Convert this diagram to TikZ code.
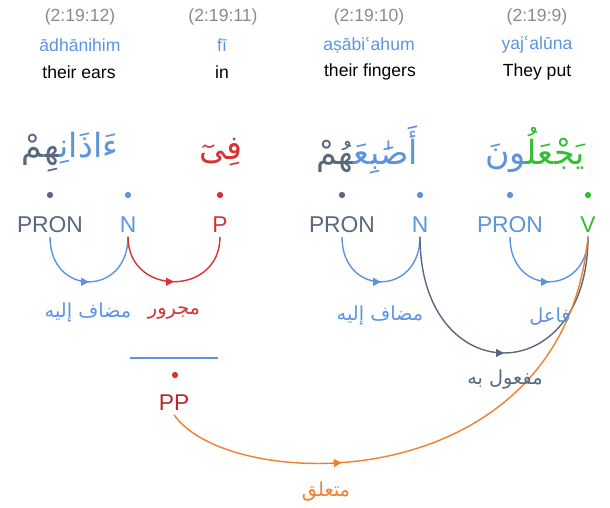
\documentclass[tikz,border=0pt]{standalone}
\usepackage{fontspec}
\setmainfont{Liberation Sans}
\newfontfamily\arabicfont[Script=Arabic]{DejaVu Sans}
\newfontfamily\markfont{DejaVu Sans}
\TeXXeTstate=1
\usetikzlibrary{positioning}
\usetikzlibrary{arrows.meta}
\usetikzlibrary{decorations.markings}

\definecolor{slate}{RGB}{88,104,126}
\definecolor{wordblue}{RGB}{92,148,224}
\definecolor{locgray}{RGB}{138,138,138}
\definecolor{posred}{RGB}{214,52,52}
\definecolor{ppred}{RGB}{186,40,44}
\definecolor{verbgreen}{RGB}{52,190,52}
\definecolor{linkorange}{RGB}{240,128,48}

% zero width joiner, keeps letters joined across a colour change
\newcommand{\joinmark}{\char"200D\relax}
\newcommand{\arword}[1]{{\arabicfont\beginR #1\endR}}
% two coloured pieces of one word, set left piece first
\newcommand{\splitword}[4]{{\arabicfont\textcolor{#3}{\joinmark #4}\textcolor{#1}{#2\joinmark}}}

\tikzset{
  loc/.style={text=locgray, font=\fontsize{10}{12}\selectfont},
  translit/.style={text=wordblue, font=\fontsize{10}{12}\selectfont},
  gloss/.style={text=black, font=\fontsize{10}{12}\selectfont},
  word/.style={font=\arabicfont\fontsize{19}{24}\selectfont},
  tagtext/.style={font=\fontsize{13}{16}\selectfont, inner sep=2pt},
  tagdot/.style={circle, inner sep=0pt, minimum size=3.6pt},
  rel/.style={font=\arabicfont\fontsize{11}{13}\selectfont},
  arcarrow/.style={postaction={decorate}, decoration={markings,
      mark=at position #1 with {\arrow{Triangle[length=4.5pt,width=4.5pt]}}}},
  arcarrow/.default=0.5,
  dep/.style={line width=0.8pt}
}

\begin{document}
\begin{tikzpicture}[x=0.02cm,y=-0.02cm]
\useasboundingbox (0,0) rectangle (610,508);

% verse locations, transliteration and gloss
\node at (80,17)[loc] (locA) {(2:19:12)};
\node at (223,17)[loc] (locB) {(2:19:11)};
\node at (369,17)[loc] (locC) {(2:19:10)};
\node at (537,17)[loc] (locD) {(2:19:9)};

\node at (80,45)[translit] (trA) {ādhānihim};
\node at (222,45)[translit] (trB) {fī};
\node at (369,45)[translit] (trC) {aṣābi{\markfont ʿ}ahum};
\node at (537,45)[translit] (trD) {yaj{\markfont ʿ}alūna};

\node at (79,72)[gloss] (glA) {their ears};
\node at (222,72)[gloss] (glB) {in};
\node at (370,72)[gloss] (glC) {their fingers};
\node at (537,72)[gloss] (glD) {They put};

% arabic words
\node at (70,152)[word] (wordA) {\splitword{wordblue}{ءَاذَانِ}{slate}{هِمْ}};
\node at (221,152)[word, text=posred] (wordB) {\arword{فِىٓ}};
\node at (367,150)[word] (wordC) {\splitword{wordblue}{أَصَٰبِعَ}{slate}{هُمْ}};
\node at (535,150)[word] (wordD) {\splitword{verbgreen}{يَجْعَلُ}{wordblue}{ونَ}};

% segment dots
\node at (50,195)[tagdot, fill=slate] (dotA1) {};
\node at (128,195)[tagdot, fill=wordblue] (dotA2) {};
\node at (220,195)[tagdot, fill=posred] (dotB1) {};
\node at (342,195)[tagdot, fill=slate] (dotC1) {};
\node at (420,195)[tagdot, fill=wordblue] (dotC2) {};
\node at (510,195)[tagdot, fill=wordblue] (dotD1) {};
\node at (588,195)[tagdot, fill=verbgreen] (dotD2) {};

% part of speech tags
\node at (50,225)[tagtext, text=slate] (pronA) {PRON};
\node at (128,225)[tagtext, text=wordblue] (nA) {N};
\node at (220,225)[tagtext, text=posred] (pB) {P};
\node at (342,225)[tagtext, text=slate] (pronC) {PRON};
\node at (420,225)[tagtext, text=wordblue] (nC) {N};
\node at (510,225)[tagtext, text=wordblue] (pronD) {PRON};
\node at (588,225)[tagtext, text=verbgreen] (vD) {V};

% prepositional phrase
\coordinate (ppL) at (130,358);
\coordinate (ppR) at (218,358);
\draw[wordblue, line width=0.8pt] (ppL) -- (ppR);
\node at (175,375)[tagdot, fill=posred] (dotPP) {};
\node at (174,403)[tagtext, text=ppred] (pp) {PP};

% dependencies
\draw[dep, wordblue, arcarrow] (pronA.south) .. controls +(0,60) and +(0,60) .. (nA.south);
\draw[dep, posred, arcarrow] (nA.south) .. controls +(0,60) and +(0,60) .. (pB.south);
\draw[dep, wordblue, arcarrow] (pronC.south) .. controls +(0,60) and +(0,60) .. (nC.south);
\draw[dep, wordblue, arcarrow] (pronD.south) .. controls +(0,60) and +(0,60) .. (vD.south);
\draw[dep, slate, arcarrow] (nC.south) .. controls +(0,155) and +(0,155) .. (vD.south);
\draw[dep, linkorange, arcarrow=0.33] (pp.south) .. controls +(55,80) and +(-25,265) .. (vD.south);

% relation labels
\node at (88,313)[rel, text=wordblue] (relA) {\arword{مضاف إليه}};
\node at (174,313)[rel, text=posred] (relB) {\arword{مجرور}};
\node at (380,316)[rel, text=wordblue] (relC) {\arword{مضاف إليه}};
\node at (550,317)[rel, text=wordblue] (relD) {\arword{فاعل}};
\node at (505,380)[rel, text=slate] (relE) {\arword{مفعول به}};
\node at (326,492)[rel, text=linkorange] (relF) {\arword{متعلق}};

\end{tikzpicture}
\end{document}
